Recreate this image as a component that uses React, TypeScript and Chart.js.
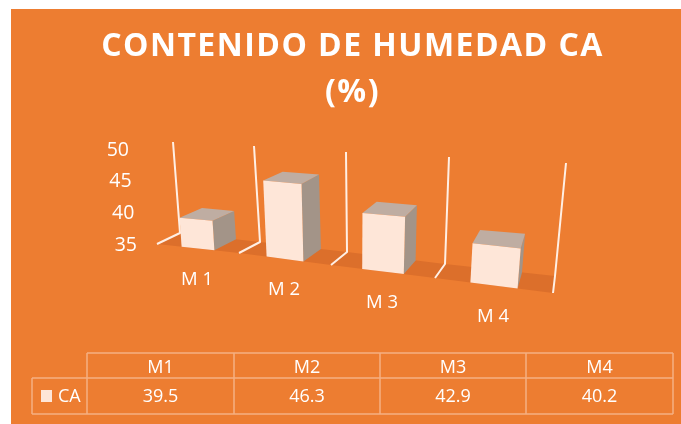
import React, { useEffect, useRef } from "react";
import { Chart, registerables } from "chart.js";

Chart.register(...registerables);

const CATEGORIES = ["M1", "M2", "M3", "M4"];
const AXIS_LABELS = ["M 1", "M 2", "M 3", "M 4"];
const SERIES_NAME = "CA";
const CA_VALUES = [39.5, 46.3, 42.9, 40.2];
const Y_MIN = 35;
const Y_MAX = 50;
const Y_STEP = 5;
const TITLE_LINES = ["CONTENIDO DE HUMEDAD CA", "(%)"];

const ORANGE = "#ED7D31";
const FLOOR = "#DC6F2B";
const WALL_LINE = "#FFEFE4";
const FRONT = "#FEE6D8";
const TOP = "#BFADA2";
const SIDE = "#A39488";
const TABLE_LINE = "#F5B083";
const TEXT = "#FFFFFF";
const FONT = "'Open Sans'";

// Perspective frame of the 3D box, one knot per category boundary.
const FRAME_FRONT: [number, number][] = [[157, 244], [239, 253], [331, 265], [435, 278], [553, 293]];
const FRAME_BACK: [number, number][] = [[180, 233], [260, 242], [347, 252], [445, 264], [555, 276]];
const FRAME_TOP: [number, number][] = [[173, 142], [254, 146], [346, 152], [449, 157], [566, 163]];
const NEAR_GROWTH = 0.04;

const TABLE_X = [87, 234, 380, 526, 673];
const TABLE_Y = [353, 378, 414];
const KEY_LEFT = 32;

function knot(table: [number, number][], u: number): [number, number] {
  const i = Math.max(0, Math.min(table.length - 2, Math.floor(u)));
  const f = u - i;
  return [
    table[i][0] + (table[i + 1][0] - table[i][0]) * f,
    table[i][1] + (table[i + 1][1] - table[i][1]) * f,
  ];
}

// u: position along the category axis, d: 0 front to 1 back, t: 0..1 share of the value axis
function project(u: number, d: number, t: number): [number, number] {
  const fr = knot(FRAME_FRONT, u);
  const bk = knot(FRAME_BACK, u);
  const tp = knot(FRAME_TOP, u);
  const bx = fr[0] + (bk[0] - fr[0]) * d;
  const by = fr[1] + (bk[1] - fr[1]) * d;
  const rise = bk[1] - tp[1];
  const lean = tp[0] - bk[0];
  return [bx + lean * t, by - rise * (1 + NEAR_GROWTH * (1 - d)) * t];
}

function poly(ctx: CanvasRenderingContext2D, pts: [number, number][], fill: string) {
  ctx.beginPath();
  pts.forEach((p, i) => (i ? ctx.lineTo(p[0], p[1]) : ctx.moveTo(p[0], p[1])));
  ctx.closePath();
  ctx.fillStyle = fill;
  ctx.fill();
}

function text(
  ctx: CanvasRenderingContext2D,
  s: string,
  x: number,
  y: number,
  size: number,
  align: CanvasTextAlign = "center",
) {
  ctx.font = `${size}px ${FONT}`;
  ctx.fillStyle = TEXT;
  ctx.textAlign = align;
  ctx.textBaseline = "middle";
  ctx.fillText(s, x, y);
}

const box3d = {
  id: "box3d",
  beforeDraw(chart: any) {
    const { ctx } = chart;
    ctx.save();
    ctx.fillStyle = "#FFFFFF";
    ctx.fillRect(0, 0, chart.width, chart.height);
    ctx.fillStyle = ORANGE;
    ctx.fillRect(11, 9, chart.width - 11, chart.height - 9);

    // data table
    ctx.strokeStyle = TABLE_LINE;
    ctx.lineWidth = 1.5;
    ctx.beginPath();
    TABLE_X.forEach((x) => {
      ctx.moveTo(x, TABLE_Y[0]);
      ctx.lineTo(x, TABLE_Y[2]);
    });
    ctx.moveTo(TABLE_X[0], TABLE_Y[0]);
    ctx.lineTo(TABLE_X[4], TABLE_Y[0]);
    ctx.moveTo(KEY_LEFT, TABLE_Y[1]);
    ctx.lineTo(TABLE_X[4], TABLE_Y[1]);
    ctx.moveTo(KEY_LEFT, TABLE_Y[2]);
    ctx.lineTo(TABLE_X[4], TABLE_Y[2]);
    ctx.moveTo(KEY_LEFT, TABLE_Y[1]);
    ctx.lineTo(KEY_LEFT, TABLE_Y[2]);
    ctx.stroke();
    ctx.fillStyle = FRONT;
    ctx.fillRect(41, 390, 11, 12);
    text(ctx, SERIES_NAME, 58, 397, 18, "left");
    CATEGORIES.forEach((c, i) => {
      const cx = (TABLE_X[i] + TABLE_X[i + 1]) / 2;
      text(ctx, c, cx, 367.5, 18);
      text(ctx, CA_VALUES[i].toFixed(1), cx, 397, 18);
    });
    ctx.restore();
    ctx.letterSpacing = "1.45px";
  },
  beforeDatasetsDraw(chart: any) {
    const { ctx } = chart;
    ctx.letterSpacing = "0px";
    ctx.save();
    const n = CATEGORIES.length;
    const floor: [number, number][] = [];
    for (let i = 0; i <= n; i++) floor.push(FRAME_FRONT[i]);
    for (let i = n; i >= 0; i--) floor.push(FRAME_BACK[i]);
    poly(ctx, floor, FLOOR);

    ctx.strokeStyle = WALL_LINE;
    ctx.lineWidth = 2;
    ctx.lineJoin = "round";
    for (let i = 0; i <= n; i++) {
      ctx.beginPath();
      ctx.moveTo(FRAME_FRONT[i][0], FRAME_FRONT[i][1]);
      ctx.lineTo(FRAME_BACK[i][0], FRAME_BACK[i][1]);
      ctx.lineTo(FRAME_TOP[i][0], FRAME_TOP[i][1]);
      ctx.stroke();
    }
    ctx.restore();

    const xs = chart.scales.x;
    const ys = chart.scales.y;
    const band = xs.width / n;
    const meta = chart.getDatasetMeta(0);
    meta.data.forEach((el: any) => {
      el.draw = function (c: CanvasRenderingContext2D) {
        const t = (ys.bottom - this.y) / (ys.bottom - ys.top);
        const u0 = (this.x - this.width / 2 - xs.left) / band;
        const u1 = (this.x + this.width / 2 - xs.left) / band;
        const fbl = project(u0, 0, 0);
        const fbr = project(u1, 0, 0);
        const ftl = project(u0, 0, t);
        const ftr = project(u1, 0, t);
        const btl = project(u0, 1, t);
        const btr = project(u1, 1, t);
        const bbr = project(u1, 1, 0);
        c.save();
        poly(c, [fbr, ftr, btr, bbr], SIDE);
        poly(c, [ftl, ftr, btr, btl], TOP);
        poly(c, [fbl, fbr, ftr, ftl], FRONT);
        c.restore();
      };
    });
  },
  afterDatasetsDraw(chart: any) {
    const { ctx } = chart;
    const ys = chart.scales.y;
    ctx.save();
    ys.ticks.forEach((tk: any) => {
      const t = (tk.value - Y_MIN) / (Y_MAX - Y_MIN);
      text(ctx, String(tk.value), 137 - 8 * t, ys.getPixelForValue(tk.value) + 1, 19.5, "right");
    });
    AXIS_LABELS.forEach((lab, i) => {
      const p = project(i + 0.5, 0, 0);
      text(ctx, lab, p[0] - 1, p[1] + 31, 18.5);
    });
    ctx.restore();
  },
};

export default function App() {
  const ref = useRef<HTMLCanvasElement>(null);
  useEffect(() => {
    if (!ref.current) return;
    const chart = new Chart(ref.current, {
      type: "bar",
      data: {
        labels: CATEGORIES,
        datasets: [
          {
            label: SERIES_NAME,
            data: CA_VALUES,
            backgroundColor: FRONT,
            categoryPercentage: 1,
            barPercentage: 0.4,
            clip: false,
          } as any,
        ],
      },
      options: {
        animation: false,
        responsive: false,
        devicePixelRatio: 1,
        events: [],
        layout: { padding: { left: 60, right: 36, top: 0, bottom: 180 } },
        scales: {
          x: { display: false },
          y: { display: false, min: Y_MIN, max: Y_MAX, ticks: { stepSize: Y_STEP } },
        },
        plugins: {
          legend: { display: false },
          tooltip: { enabled: false },
          title: {
            display: true,
            text: TITLE_LINES,
            color: TEXT,
            font: { family: FONT, size: 32, weight: "bold", lineHeight: 1.4375 },
            padding: { top: 24, bottom: 33 },
          },
        },
      },
      plugins: [box3d],
    } as any);
    return () => chart.destroy();
  }, []);
  return (
    <canvas
      ref={ref}
      width={681}
      height={424}
      style={{ position: "fixed", left: 0, top: 0, width: 681, height: 424, display: "block" }}
    />
  );
}
